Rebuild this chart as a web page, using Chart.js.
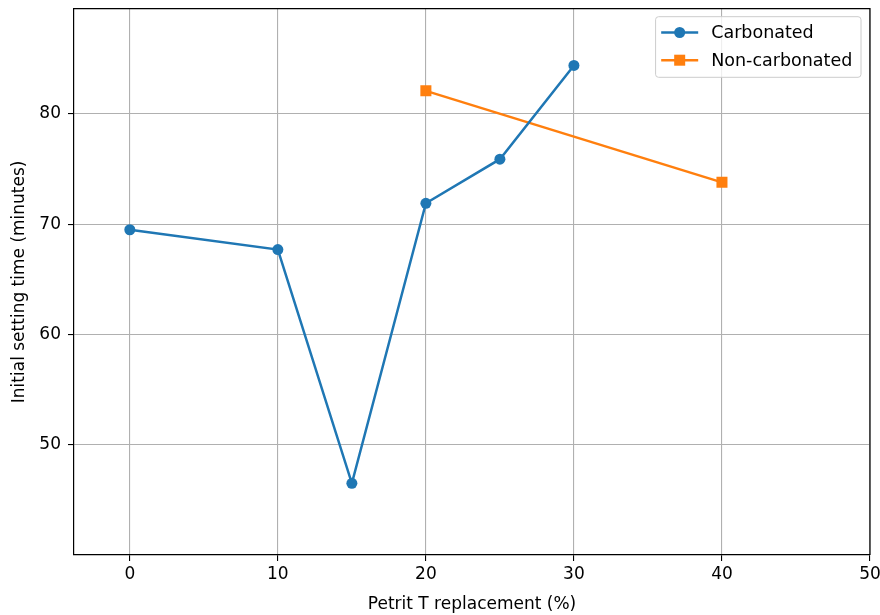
<!DOCTYPE html>
<html>
<head>
<meta charset="utf-8">
<script src="https://cdn.jsdelivr.net/npm/chart.js@4.4.1/dist/chart.umd.min.js"></script>
<style>
  html, body { margin: 0; padding: 0; background: #fff; }
  canvas { display: block; }
</style>
</head>
<body>
<canvas id="chart" width="880" height="615"></canvas>
<script>
// Initial setting time vs. Petrit T replacement
const carbReplacement = [0, 10, 15, 20, 25, 30];
const carbonated = [69.5, 67.7, 46.5, 71.9, 75.9, 84.4];
const nonCarbReplacement = [20, 40];
const nonCarbonated = [82.1, 73.8];
const xTickValues = [0, 10, 20, 30, 40, 50];
const yTickValues = [50, 60, 70, 80];

const FONT = 'DejaVu Sans';
const BLUE = '#1f77b4';
const ORANGE = '#ff7f0e';

const toPoints = (xs, ys) => xs.map((x, i) => ({ x: x, y: ys[i] }));

// Top and right spines of the plotting frame
const frame = {
  id: 'frame',
  afterDatasetsDraw(chart) {
    const { ctx, chartArea: a } = chart;
    ctx.save();
    ctx.strokeStyle = '#000';
    ctx.lineWidth = 1.2;
    ctx.beginPath();
    ctx.moveTo(a.left, a.top);
    ctx.lineTo(a.right, a.top);
    ctx.lineTo(a.right, a.bottom);
    ctx.stroke();
    ctx.restore();
  }
};

// Legend box with line-and-marker handles, upper right
const lineLegend = {
  id: 'lineLegend',
  afterDraw(chart) {
    const { ctx, chartArea: a } = chart;
    const sets = chart.data.datasets;
    ctx.save();
    ctx.font = '17.5px "' + FONT + '"';
    const textW = Math.max(...sets.map(d => ctx.measureText(d.label).width));
    const padL = 5.6, handle = 37, gap = 13, padR = 8.7;
    const w = padL + handle + gap + textW + padR;
    const h = 60.6;
    const right = a.right - 9;
    const left = right - w;
    const top = a.top + 8;
    // box
    ctx.beginPath();
    ctx.roundRect(left, top, w, h, 3);
    ctx.fillStyle = 'rgba(255,255,255,0.8)';
    ctx.fill();
    ctx.strokeStyle = '#cccccc';
    ctx.lineWidth = 1;
    ctx.stroke();
    sets.forEach((d, i) => {
      const cy = top + 15.8 + i * 27.7;
      const x0 = left + padL, x1 = x0 + handle, cx = (x0 + x1) / 2;
      ctx.strokeStyle = d.borderColor;
      ctx.lineWidth = d.borderWidth;
      ctx.beginPath();
      ctx.moveTo(x0, cy);
      ctx.lineTo(x1, cy);
      ctx.stroke();
      ctx.fillStyle = d.borderColor;
      if (d.pointStyle === 'rect') {
        ctx.fillRect(cx - 5.5, cy - 5.5, 11, 11);
      } else {
        ctx.beginPath();
        ctx.arc(cx, cy, 5.5, 0, Math.PI * 2);
        ctx.fill();
      }
      ctx.fillStyle = '#000';
      ctx.textAlign = 'left';
      ctx.textBaseline = 'middle';
      ctx.fillText(d.label, x1 + gap, cy + 1);
    });
    ctx.restore();
  }
};

new Chart(document.getElementById('chart'), {
  type: 'line',
  data: {
    datasets: [
      {
        label: 'Carbonated',
        data: toPoints(carbReplacement, carbonated),
        borderColor: BLUE,
        backgroundColor: BLUE,
        pointBackgroundColor: BLUE,
        pointBorderColor: BLUE,
        borderWidth: 2.5,
        pointStyle: 'circle',
        pointRadius: 5.5,
        pointBorderWidth: 0,
        tension: 0,
        fill: false
      },
      {
        label: 'Non-carbonated',
        data: toPoints(nonCarbReplacement, nonCarbonated),
        borderColor: ORANGE,
        backgroundColor: ORANGE,
        pointBackgroundColor: ORANGE,
        pointBorderColor: ORANGE,
        borderWidth: 2.5,
        pointStyle: 'rect',
        pointRadius: 7.8,
        pointBorderWidth: 0,
        tension: 0,
        fill: false
      }
    ]
  },
  options: {
    responsive: false,
    animation: false,
    devicePixelRatio: 1,
    layout: { padding: { left: 0, right: 10, top: 8.7, bottom: 0 } },
    plugins: {
      legend: { display: false },
      tooltip: { enabled: false }
    },
    scales: {
      x: {
        type: 'linear',
        min: -3.77,
        max: 50,
        afterBuildTicks(scale) { scale.ticks = xTickValues.map(v => ({ value: v })); },
        afterFit(scale) {
          scale.height = 60;
          scale.paddingLeft = 0;
          scale.paddingRight = 0;
        },
        grid: { color: '#b0b0b0', lineWidth: 1.1, tickColor: '#000', tickLength: 6, tickWidth: 1.1 },
        border: { display: true, color: '#000', width: 1.2 },
        ticks: { color: '#000', padding: 3, font: { family: FONT, size: 17 }, maxRotation: 0, autoSkip: false },
        title: {
          display: true,
          text: 'Petrit T replacement (%)',
          color: '#000',
          font: { family: FONT, size: 17 },
          padding: { top: 0, bottom: 0.5 }
        }
      },
      y: {
        type: 'linear',
        min: 40,
        max: 89.55,
        afterBuildTicks(scale) { scale.ticks = yTickValues.map(v => ({ value: v })); },
        afterFit(scale) {
          scale.width = 74;
          scale.paddingTop = 0;
          scale.paddingBottom = 0;
        },
        grid: { color: '#b0b0b0', lineWidth: 1.1, tickColor: '#000', tickLength: 6, tickWidth: 1.1 },
        border: { display: true, color: '#000', width: 1.2 },
        ticks: { color: '#000', padding: 7, font: { family: FONT, size: 17 }, autoSkip: false },
        title: {
          display: true,
          text: 'Initial setting time (minutes)',
          color: '#000',
          font: { family: FONT, size: 17 },
          padding: { top: 9, bottom: 0 }
        }
      }
    }
  },
  plugins: [frame, lineLegend]
});
</script>
</body>
</html>
